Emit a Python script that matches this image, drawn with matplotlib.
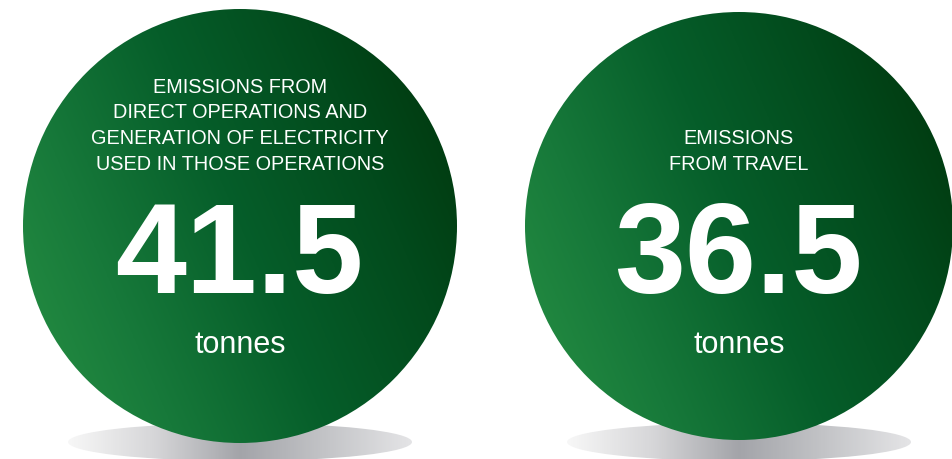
import numpy as np
import matplotlib
matplotlib.use("Agg")
import matplotlib.pyplot as plt
from matplotlib.patches import Circle, Ellipse
from matplotlib.colors import LinearSegmentedColormap

# data
values = [41.5, 36.5]
titles = [
    "EMISSIONS FROM\nDIRECT OPERATIONS AND\nGENERATION OF ELECTRICITY\nUSED IN THOSE OPERATIONS",
    "EMISSIONS\nFROM TRAVEL",
]
unit = "tonnes"

W, H = 953, 459
fig = plt.figure(figsize=(W / 100, H / 100), dpi=100)
ax = fig.add_axes([0, 0, 1, 1])
ax.set_xlim(0, W)
ax.set_ylim(H, 0)
ax.axis("off")

green = LinearSegmentedColormap.from_list(
    "grn", ["#289244", "#17793a", "#065e2a", "#024a1c", "#00330a"])
grey = LinearSegmentedColormap.from_list(
    "gry", ["#f7f7f7", "#d6d6d8", "#a3a4a9", "#c3c4c7", "#e4e4e6"])

centers = [(240, 226, 217), (739, 226, 214)]

for (cx, cy, r), val, title in zip(centers, values, titles):
    # shadow under the disc
    sx0, sx1 = cx - 172, cx + 172
    sy0, sy1 = cy + 197, cy + 235
    gx = np.linspace(0, 1, 300)[None, :].repeat(10, axis=0)
    im = ax.imshow(gx, cmap=grey, extent=[sx0, sx1, sy1, sy0],
                   aspect="auto", zorder=1, interpolation="bicubic")
    ell = Ellipse((cx, (sy0 + sy1) / 2), sx1 - sx0, sy1 - sy0,
                  transform=ax.transData, facecolor="none", edgecolor="none")
    ax.add_patch(ell)
    im.set_clip_path(ell)

    # disc, gradient mostly left->right, a bit bottom->top
    n = 300
    u = np.linspace(-1, 1, n)
    xx, yy = np.meshgrid(u, u)
    t = (0.7 * xx - 0.3 * yy + 1) / 2
    im2 = ax.imshow(np.clip(t, 0, 1), cmap=green,
                    extent=[cx - r, cx + r, cy + r, cy - r],
                    aspect="auto", zorder=2, interpolation="bicubic")
    circ = Circle((cx, cy), r, transform=ax.transData,
                  facecolor="none", edgecolor="none")
    ax.add_patch(circ)
    im2.set_clip_path(circ)

    ax.text(cx, 174, title, ha="center", va="bottom", color="white",
            fontsize=14.3, family="Liberation Sans", linespacing=1.45,
            zorder=3)
    ax.text(cx - 1, 293, f"{val:.1f}", ha="center", va="baseline",
            color="white", fontsize=92, fontweight="bold",
            family="Liberation Sans", zorder=3)
    ax.text(cx, 345, unit, ha="center", va="center", color="white",
            fontsize=22, family="Liberation Sans", zorder=3)

fig.savefig("out.png", dpi=100)
